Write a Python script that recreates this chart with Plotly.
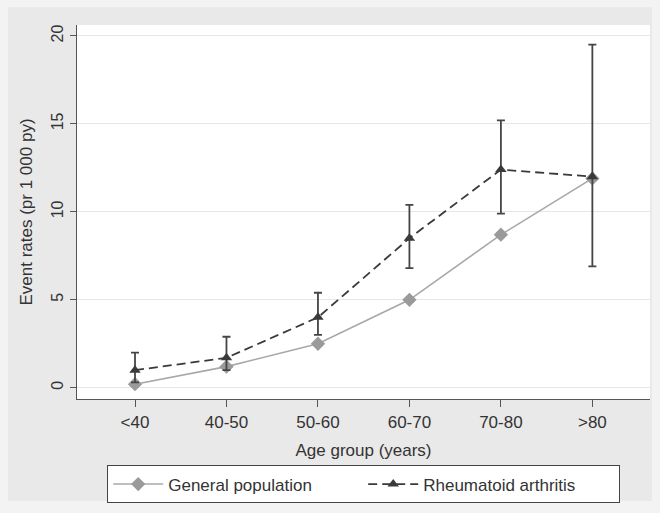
import plotly.graph_objects as go

categories = ["<40", "40-50", "50-60", "60-70", "70-80", ">80"]
general_population = [0.2, 1.2, 2.5, 5.0, 8.7, 11.9]
ra_rate = [1.0, 1.7, 4.0, 8.5, 12.4, 12.0]
ra_lower = [0.3, 1.0, 3.0, 6.8, 9.9, 6.9]
ra_upper = [2.0, 2.9, 5.4, 10.4, 15.2, 19.5]
y_ticks = [0, 5, 10, 15, 20]

xpos = list(range(len(categories)))
err_plus = [u - v for u, v in zip(ra_upper, ra_rate)]
err_minus = [v - l for v, l in zip(ra_rate, ra_lower)]

fig = go.Figure()
fig.add_trace(go.Scatter(
    x=xpos, y=general_population, mode="lines+markers",
    name="General population",
    line=dict(color="#a8a8a8", width=1.6),
    marker=dict(symbol="diamond", size=11, color="#9a9a9a"),
))
fig.add_trace(go.Scatter(
    x=xpos, y=ra_rate, mode="lines+markers",
    name="Rheumatoid arthritis",
    line=dict(color="#3a3a3a", width=1.8, dash="9px,5px"),
    marker=dict(symbol="triangle-up", size=10, color="#3a3a3a"),
    error_y=dict(type="data", array=err_plus, arrayminus=err_minus,
                 symmetric=False, color="#454545", thickness=1.8, width=4),
))

W, H = 660, 513
ML, MR, MT, MB = 77, 10, 25, 110
pw, ph = W - ML - MR, H - MT - MB

def px_x(p):
    return (p - ML) / pw

def px_y(p):
    return (H - MB - p) / ph

font_family = "Liberation Sans, Arial, sans-serif"
fig.update_layout(
    width=W, height=H,
    margin=dict(l=ML, r=MR, t=MT, b=MB),
    paper_bgcolor="#f3f3f3",
    plot_bgcolor="#ffffff",
    font=dict(family=font_family, size=17, color="#333333"),
    showlegend=True,
    legend=dict(
        orientation="h", x=px_x(107), xanchor="left", y=px_y(470), yanchor="top",
        bgcolor="#ffffff", bordercolor="#444444", borderwidth=1.2,
        font=dict(size=17, color="#333333"),
        entrywidth=190, itemwidth=50,
    ),
    shapes=[
        dict(type="rect", xref="paper", yref="paper", layer="below",
             x0=px_x(8), x1=px_x(652), y0=px_y(506), y1=px_y(7),
             fillcolor="#e9e9e9", line=dict(width=0)),
        dict(type="rect", xref="paper", yref="paper", layer="below",
             x0=0, x1=1, y0=0, y1=1,
             fillcolor="#ffffff", line=dict(width=0)),
    ],
    xaxis=dict(
        range=[-0.634, 5.63],
        tickmode="array", tickvals=xpos, ticktext=categories,
        ticks="outside", ticklen=7, tickcolor="#555555",
        showline=True, linecolor="#555555", linewidth=1.3,
        showgrid=False, zeroline=False,
        title=dict(text="Age group (years)", font=dict(size=17), standoff=13),
        tickfont=dict(size=17),
    ),
    yaxis=dict(
        range=[-0.64, 20.62],
        tickmode="array", tickvals=y_ticks,
        ticks="outside", ticklen=6, tickcolor="#555555",
        tickangle=-90,
        showline=True, linecolor="#555555", linewidth=1.3,
        showgrid=True, gridcolor="#e6e6e6", gridwidth=1.3,
        zeroline=False,
        title=dict(text="Event rates (pr 1 000 py)", font=dict(size=17), standoff=12),
        tickfont=dict(size=16),
    ),
)

fig.write_html("out.html", config={"displayModeBar": False},
               post_script="document.body.style.margin='0';")
